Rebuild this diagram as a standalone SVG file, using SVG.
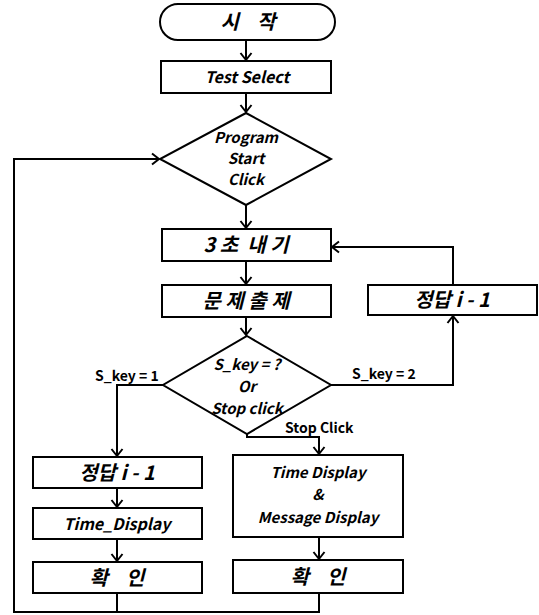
<svg xmlns="http://www.w3.org/2000/svg" width="539" height="615" viewBox="0 0 539 615">
<style>
.box{fill:#fff;stroke:#000;stroke-width:2}
.ln{fill:none;stroke:#000;stroke-width:2}
.t{font-family:"Noto Sans CJK KR","Noto Sans",sans-serif;font-weight:bold;font-style:italic;font-size:16px;text-anchor:middle;fill:#000;white-space:pre}
.k{font-size:20px}
.lab{font-family:"Noto Sans CJK KR","Noto Sans",sans-serif;font-weight:bold;font-size:14px;fill:#000;white-space:pre}
</style>
<defs>
<marker id="ar" markerUnits="userSpaceOnUse" markerWidth="14" markerHeight="14" refX="11" refY="7" orient="auto">
<path d="M4,1.5 L11,7 L4,12.5" fill="none" stroke="#000" stroke-width="2"/>
</marker>
</defs>
<g id="connectors">
<line class="ln" x1="246" y1="40" x2="246" y2="60" marker-end="url(#ar)"/>
<line class="ln" x1="246" y1="93" x2="246" y2="112" marker-end="url(#ar)"/>
<line class="ln" x1="246" y1="205" x2="246" y2="228" marker-end="url(#ar)"/>
<line class="ln" x1="246" y1="261" x2="246" y2="284" marker-end="url(#ar)"/>
<line class="ln" x1="246" y1="317" x2="246" y2="335" marker-end="url(#ar)"/>
<polyline class="ln" points="163,385 117,385 117,456" marker-end="url(#ar)"/>
<polyline class="ln" points="331,385 453,385 453,316" marker-end="url(#ar)"/>
<polyline class="ln" points="453,285 453,247 332,247" marker-end="url(#ar)"/>
<polyline class="ln" points="247,434 247,437 319,437 319,454" marker-end="url(#ar)"/>
<line class="ln" x1="117" y1="488" x2="117" y2="507" marker-end="url(#ar)"/>
<line class="ln" x1="117" y1="539" x2="117" y2="561" marker-end="url(#ar)"/>
<line class="ln" x1="319" y1="537" x2="319" y2="559" marker-end="url(#ar)"/>
<polyline class="ln" points="117,593 117,612"/>
<polyline class="ln" points="319,593 319,612 14,612 14,159 159,159" marker-end="url(#ar)"/>
<text class="lab" x="95" y="381">S_key = 1</text>
<text class="lab" x="352" y="379">S_key = 2</text>
<text class="lab" x="285" y="433">Stop Click</text>
</g>
<g id="start">
<rect class="box" x="160" y="4" width="175" height="36" rx="18"/>
<text class="t k" x="248" y="29">시    작</text>
</g>
<g id="test-select">
<rect class="box" x="161" y="61" width="170" height="32"/>
<text class="t" x="247" y="83">Test Select</text>
</g>
<g id="program-start">
<polygon class="box" points="246,113 331,159 246,205 160,159"/>
<text class="t" x="246" y="143" style="font-size:15px">Program</text>
<text class="t" x="246" y="164" style="font-size:15px">Start</text>
<text class="t" x="246" y="185" style="font-size:15px">Click</text>
</g>
<g id="wait-3s">
<rect class="box" x="162" y="229" width="169" height="32"/>
<text class="t k" x="246" y="252">3 초  내 기</text>
</g>
<g id="question">
<rect class="box" x="162" y="285" width="169" height="32"/>
<text class="t k" x="246" y="308">문 제 출 제</text>
</g>
<g id="skey-decision">
<polygon class="box" points="247,336 331,385 247,434 163,385"/>
<text class="t" x="247" y="370" style="font-size:15px">S_key = ?</text>
<text class="t" x="247" y="392" style="font-size:15px">Or</text>
<text class="t" x="247" y="414" style="font-size:15px">Stop click</text>
</g>
<g id="answer-right">
<rect class="box" x="368" y="285" width="169" height="30"/>
<text class="t k" x="452" y="307">정답 i - 1</text>
</g>
<g id="answer-left">
<rect class="box" x="33" y="457" width="169" height="31"/>
<text class="t k" x="117" y="480">정답 i - 1</text>
</g>
<g id="time-display-left">
<rect class="box" x="33" y="508" width="169" height="31"/>
<text class="t" x="117" y="530">Time_Display</text>
</g>
<g id="confirm-left">
<rect class="box" x="33" y="562" width="169" height="31"/>
<text class="t k" x="117" y="585">확    인</text>
</g>
<g id="time-message-display">
<rect class="box" x="233" y="455" width="170" height="82"/>
<text class="t" x="318" y="478" style="font-size:15px">Time Display</text>
<text class="t" x="318" y="500" style="font-size:15px">&amp;</text>
<text class="t" x="318" y="523" style="font-size:15px">Message Display</text>
</g>
<g id="confirm-right">
<rect class="box" x="233" y="560" width="170" height="33"/>
<text class="t k" x="318" y="584">확    인</text>
</g>
</svg>
